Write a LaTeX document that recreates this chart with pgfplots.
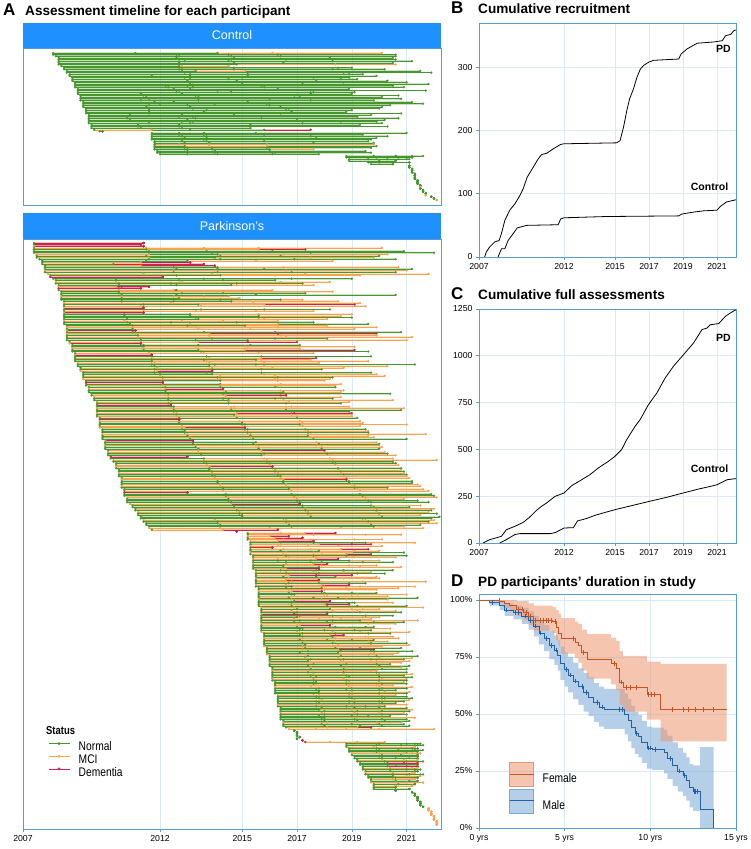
\documentclass[border=0pt]{standalone}
\usepackage{fontspec}
\setmainfont{Liberation Sans}
\newfontfamily\narrowfont{Liberation Sans}[FakeStretch=0.82]
\usepackage{pgfplots}
\pgfplotsset{compat=1.18}
\usepackage{pgfplotstable}
\definecolor{frame}{RGB}{86,156,214}
\definecolor{gridc}{RGB}{218,234,248}
\definecolor{hdr}{RGB}{30,144,255}
\definecolor{cN}{RGB}{70,150,45}
\definecolor{cM}{RGB}{247,163,80}
\definecolor{cD}{RGB}{204,35,75}
\definecolor{femline}{RGB}{196,84,36}
\definecolor{femfill}{RGB}{236,150,110}
\definecolor{maleline}{RGB}{36,96,164}
\definecolor{malefill}{RGB}{120,168,214}
\pgfplotsset{colormap={status}{rgb255(0cm)=(70,150,45) rgb255(1cm)=(247,163,80) rgb255(2cm)=(204,35,75)}}
\pgfplotsset{
 panel/.style={scale only axis, anchor=south west, axis line style={draw=frame, line width=0.8pt},
   tick style={draw=frame, line width=0.6pt}, major tick length=3pt, tick align=outside,
   grid=major, grid style={draw=gridc, line width=0.6pt},
   tick label style={font=\fontsize{8.7}{9}\selectfont}, xtick pos=bottom, ytick pos=left},
 timeline/.style={panel, width=418pt, xmin=70, xmax=222.55, y dir=reverse, ytick=\empty,
   xtick={70,120,150,170,190,210}, colormap name=status, point meta min=0, point meta max=2},
 band/.style={forget plot, line width=1.8pt, draw opacity=0.28},
 thin/.style={forget plot, line width=0.5pt},
 dots/.style={forget plot, scatter, only marks, mark=*, mark size=1.05pt, mark options={line width=0.2pt},
   scatter/use mapped color={draw=mapped color, fill=mapped color}},
}
\pgfplotstableread{
a0 s0 a1 s1 a2 s2 a3 s3 a4 s4
81 0 111 0 141 0 161 1 201 1
81 0 126 0 145 0 163 0 206 0
82 0 127 0 146 0 164 0 206 0
83 0 126 0 147 0 182 0 205 0
83 0 127 0 146 0 166 0 206 0
83 0 129 0 145 0 183 0 212 0
83 0 127 0 147 0 165 0 205 0
83 0 128 0 148 0 184 1 206 1
84 0 127 0 145 1 145 1 145 1
85 0 128 0 147 0 185 0 190 0
85 0 127 0 147 0 183 0 202 0
86 0 128 0 133 0 151 1 215 0
86 0 129 0 152 0 187 0 219 0
87 0 131 0 152 0 189 0 194 0
87 0 117 0 131 0 152 0 199 0
88 0 129 0 150 0 176 0 189 0
88 0 131 0 145 0 186 0 192 0
88 0 130 0 148 0 177 0 203 0
89 0 132 0 150 0 187 0 210 0
89 0 131 0 150 0 172 0 218 0
89 0 122 0 130 0 157 0 205 0
89 0 123 0 132 0 158 0 209 0
90 0 125 0 131 0 163 0 189 0
90 0 127 0 141 0 175 0 217 0
90 0 126 0 146 0 176 0 191 0
90 0 113 0 128 0 175 0 190 0
91 0 114 0 133 0 169 0 207 0
91 0 115 0 134 0 171 0 201 0
91 0 116 0 134 0 160 0 208 0
91 0 113 0 134 0 175 0 198 0
92 0 118 0 125 0 152 0 212 0
92 0 120 0 140 0 159 0 216 0
92 0 116 0 130 0 160 0 204 0
92 0 115 0 131 0 164 0 201 0
93 0 116 0 132 0 167 0 200 0
93 0 116 0 137 0 166 0 190 0
93 0 116 0 136 0 168 0 188 0
93 0 116 0 128 0 164 0 208 0
94 0 109 0 128 0 147 0 197 0
94 0 108 0 127 0 132 0 192 0
94 0 108 0 133 0 157 0 207 0
94 0 109 0 130 0 170 0 202 0
94 0 128 0 132 0 186 0 199 0
94 0 116 0 131 0 172 0 201 0
95 0 112 0 127 0 153 0 193 0
95 0 112 0 127 0 153 0 203 0
95 0 113 0 128 0 153 0 153 0
96 0 117 1 131 0 158 0 175 2
98 0 99 0 99 0 99 0 99 0
117 0 127 0 136 0 155 0 210 0
117 0 127 0 136 0 158 0 194 0
117 0 128 0 137 0 175 0 203 0
117 0 129 0 137 0 177 0 199 0
117 0 128 0 136 0 158 0 197 0
118 0 128 0 137 0 158 0 196 0
118 0 129 0 138 0 176 0 198 0
118 0 127 1 138 1 159 1 198 1
118 0 129 0 138 1 159 1 199 0
118 0 130 0 139 0 159 0 197 0
118 0 129 0 139 0 160 0 176 1
119 0 130 0 140 0 160 0 195 0
119 0 130 0 140 0 162 0 197 0
120 0 130 0 141 0 161 0 178 0
188 0 198 0 206 0 212 0 216 0
188 0 199 0 207 0 212 0 212 0
189 0 196 0 203 0 210 0 211 0
189 0 200 0 206 0 206 0 206 0
196 0 200 0 211 0 211 0 211 0
197 0 205 0 205 0 205 0 205 0
211 0 211 0 211 0 211 0 211 0
211 0 211 0 211 0 211 0 211 0
212 0 212 0 212 0 212 0 212 0
212 0 212 0 212 0 212 0 212 0
212 0 212 0 212 0 212 0 212 0
213 0 213 0 213 0 213 0 213 0
213 0 213 0 213 0 213 0 213 0
213 0 213 0 213 0 213 0 213 0
213 0 213 0 213 0 213 0 213 0
214 0 214 0 214 0 214 0 214 0
214 0 214 0 214 0 214 0 214 0
214 0 214 0 214 0 214 0 214 0
215 0 215 0 215 0 215 0 215 0
215 1 215 1 215 1 215 1 215 1
215 0 215 0 215 0 215 0 215 0
216 0 216 0 216 0 216 0 216 0
216 0 216 0 216 0 216 0 216 0
217 0 217 0 217 0 217 0 217 0
217 1 217 1 217 1 217 1 217 1
219 0 219 0 219 0 219 0 219 0
220 0 220 0 220 0 220 0 220 0
221 1 221 1 221 1 221 1 221 1
}\ctrltab
\pgfplotstableread{
a0 s0 a1 s1 a2 s2 a3 s3 a4 s4
74 0 114 2 114 2 114 2 114 2
74 0 113 2 113 2 113 2 113 2
74 1 114 2 114 2 114 2 114 2
74 0 115 1 136 1 156 1 201 1
74 0 115 0 137 1 156 1 173 2
74 0 116 0 137 0 161 0 209 0
74 0 116 0 139 0 175 0 220 0
75 1 116 1 141 0 165 1 203 1
75 0 115 0 142 0 164 0 200 0
75 0 116 1 140 0 175 1 198 1
76 0 116 0 142 0 169 0 206 0
77 0 115 0 130 0 155 1 183 1
77 0 113 1 131 2 131 2 131 2
77 0 103 0 136 2 136 2 136 2
78 0 113 1 140 2 140 2 140 2
78 0 125 0 141 0 165 1 207 1
78 0 126 0 141 0 158 0 212 0
78 1 125 1 140 1 166 1 210 1
78 0 125 0 141 0 168 0 206 0
79 1 114 1 139 1 173 1 218 1
80 0 126 0 142 0 162 1 193 1
80 2 121 2 121 2 121 2 121 2
81 0 104 0 136 0 168 0 190 0
82 0 104 0 127 0 143 0 162 0
82 1 104 1 128 1 164 1 182 1
82 0 105 0 124 0 148 0 172 0
83 0 105 0 126 0 146 0 176 1
83 1 104 1 106 2 116 2 116 2
83 2 105 2 113 2 113 2 113 2
83 0 105 1 125 1 126 0 161 1
84 0 105 0 125 1 141 1 183 1
84 0 105 0 128 0 143 0 173 0
84 0 106 0 126 0 155 0 206 0
84 1 106 1 125 1 136 1 145 1
84 0 106 0 127 0 149 1 149 1
84 0 106 0 142 0 164 0 172 1
85 0 106 0 125 0 146 0 185 1
85 1 106 1 124 1 154 1 193 1
85 0 114 0 134 0 158 1 191 2
85 0 113 1 135 1 160 1 195 1
85 1 114 2 114 2 114 2 114 2
85 0 114 0 135 0 158 0 182 0
85 0 114 1 133 1 155 1 176 1
85 1 114 2 114 2 114 2 114 2
85 0 107 0 131 0 156 1 190 1
85 0 107 0 131 0 156 0 186 1
85 0 108 0 133 0 156 0 190 0
85 0 108 0 134 0 158 1 181 1
85 1 107 1 128 1 143 1 163 1
85 0 108 0 124 0 148 0 176 0
85 0 109 0 131 1 163 1 196 0
86 0 110 0 130 0 151 0 181 1
86 1 110 1 133 1 163 1 199 1
86 0 110 0 134 1 153 1 191 1
86 1 111 2 111 2 111 2 111 2
86 0 110 0 136 0 162 0 208 0
86 1 111 1 138 1 163 2 199 2
86 0 112 0 138 1 164 1 199 1
86 0 112 1 138 1 166 1 212 1
86 0 113 0 139 0 162 0 181 0
86 0 113 0 133 0 152 0 210 1
87 0 113 1 134 1 152 2 170 2
87 1 113 2 113 2 113 2 113 2
88 0 114 0 134 0 153 0 171 0
88 0 114 0 133 1 151 1 191 1
88 1 114 1 134 1 152 1 171 1
88 0 114 0 134 0 151 1 191 2
88 0 116 0 135 0 156 0 196 0
89 0 116 1 136 1 156 1 176 1
89 1 117 2 117 2 117 2 117 2
89 0 117 0 137 0 157 0 197 0
89 0 117 1 138 1 157 1 177 2
89 0 117 0 136 0 155 0 175 1
89 0 117 0 137 1 157 1 196 1
90 1 118 1 138 1 158 1 178 1
90 0 117 0 140 0 155 0 213 0
90 0 118 0 138 0 158 1 203 1
91 0 119 1 139 1 161 1 187 1
91 0 118 0 139 0 157 0 179 0
91 1 119 1 139 2 139 2 139 2
92 0 118 0 137 0 157 0 197 0
92 0 120 0 139 0 158 1 199 1
92 0 120 1 142 1 162 1 202 1
92 0 121 0 141 0 163 0 183 0
92 1 121 1 142 1 162 1 182 1
93 0 121 0 142 0 163 1 180 1
93 2 121 2 121 2 121 2 121 2
93 0 121 0 142 0 164 1 186 1
93 0 121 1 142 1 163 1 184 1
94 0 122 0 142 0 162 0 184 0
94 1 122 1 143 2 143 2 143 2
94 0 122 0 143 1 164 1 187 1
94 0 122 0 144 0 165 0 186 1
95 0 123 0 143 0 164 0 204 0
95 0 122 1 144 1 166 2 166 2
96 1 123 1 144 1 164 1 186 1
96 0 123 0 143 0 162 0 183 0
96 0 123 0 145 0 165 1 205 1
97 1 124 1 145 1 167 1 189 1
97 0 123 0 145 0 166 0 186 0
97 0 124 2 124 2 124 2 124 2
97 0 125 0 147 1 168 1 189 1
97 1 124 1 146 1 166 1 209 1
97 0 125 0 146 0 166 0 208 0
97 0 125 0 148 0 168 0 189 0
97 1 126 1 148 1 169 2 190 2
97 0 126 0 147 0 168 1 190 1
97 0 126 1 148 1 170 1 190 1
98 0 127 0 148 0 170 0 192 0
98 2 127 2 127 2 127 2 127 2
98 1 127 1 149 1 171 1 193 1
98 0 127 0 150 0 172 1 194 1
98 0 128 0 151 0 171 0 210 1
98 0 128 1 150 1 172 1 193 1
98 1 129 1 151 2 151 2 151 2
99 0 128 0 152 0 173 0 195 0
99 0 129 0 151 1 174 1 196 1
99 0 129 0 152 0 174 0 196 0
99 1 130 1 153 1 175 1 217 1
99 0 130 0 153 0 174 0 196 1
99 0 131 1 153 1 176 1 198 1
99 0 131 0 154 0 176 0 210 0
100 1 132 2 132 2 132 2 132 2
100 0 132 0 155 0 177 1 199 1
100 0 132 0 154 0 178 0 200 0
100 1 133 1 155 1 177 1 200 1
100 0 133 0 156 1 179 1 201 1
100 0 134 0 156 0 179 0 200 0
101 0 134 1 157 1 180 2 180 2
101 1 134 1 157 1 180 1 202 1
101 0 135 0 158 0 181 0 203 0
101 0 135 0 157 0 182 1 206 1
102 2 130 2 130 2 130 2 130 2
102 0 136 0 158 1 182 1 205 1
103 1 136 1 159 1 183 1 221 1
103 0 136 0 159 0 183 0 205 0
104 0 137 0 160 0 184 0 206 0
104 0 137 1 160 1 184 1 207 1
104 1 138 1 161 2 161 2 161 2
104 0 138 0 161 0 185 0 208 0
105 0 138 0 162 1 185 1 208 1
105 0 139 0 162 0 186 0 209 0
105 1 139 1 163 1 186 1 209 1
105 0 139 0 163 0 187 0 210 0
105 0 140 0 164 0 187 1 210 1
106 0 140 1 164 1 188 1 211 1
106 1 141 1 165 1 188 2 188 2
106 0 141 0 165 0 189 0 212 0
106 0 141 0 165 0 189 0 212 0
106 0 142 1 166 1 190 1 214 1
106 1 142 1 166 1 191 1 215 1
106 0 143 0 167 0 191 0 203 0
107 0 143 0 167 0 192 1 216 1
107 0 143 1 168 1 193 1 218 1
107 2 130 2 130 2 130 2 130 2
107 0 144 0 168 0 193 0 219 0
107 0 144 0 169 0 194 0 220 0
108 1 145 1 169 1 195 1 221 1
108 0 145 0 170 1 195 1 209 1
108 0 145 0 170 0 196 0 214 0
108 0 146 0 171 0 197 0 218 0
109 1 146 1 171 2 171 2 171 2
110 0 147 0 172 0 197 0 215 1
110 0 147 0 172 0 198 0 211 0
111 0 148 1 173 1 198 1 220 1
111 0 148 0 173 0 199 0 219 0
112 1 149 1 174 1 199 1 218 1
112 0 149 0 174 0 200 0 221 0
112 0 150 0 175 1 200 1 215 1
113 0 150 0 175 0 201 0 222 0
113 0 140 0 165 0 194 0 219 0
114 1 140 1 166 1 195 1 220 1
114 0 141 0 166 0 196 0 218 0
115 0 141 0 167 1 196 1 221 1
115 0 142 0 167 0 197 0 215 0
116 0 142 0 168 0 198 0 209 1
116 1 142 1 160 1 186 1 216 1
117 0 143 1 163 2 163 2 163 2
148 2 148 2 148 2 148 2 148 2
152 0 164 1 173 1 184 2 184 2
152 0 163 1 176 1 195 1 208 1
152 1 160 1 167 2 167 2 167 2
152 0 162 1 172 2 172 2 172 2
152 0 165 1 175 1 191 1 201 1
153 1 163 1 176 2 176 2 176 2
153 0 164 0 176 0 195 0 213 1
153 0 164 1 178 1 190 2 197 2
153 1 163 1 174 1 185 1 201 1
153 0 161 2 161 2 161 2 161 2
153 0 165 1 175 1 186 1 196 2
153 0 164 0 178 0 191 1 200 1
153 1 166 1 176 1 190 1 209 0
153 0 165 1 179 1 188 1 197 2
154 0 166 0 176 0 188 0 210 0
154 0 167 1 177 1 191 1 206 1
154 1 163 1 177 1 185 2 185 2
154 0 163 0 175 0 189 0 200 1
154 0 166 0 179 0 194 0 205 0
154 1 166 1 176 1 181 2 181 2
154 0 165 0 179 1 189 1 199 1
154 0 165 0 178 0 193 1 208 1
154 0 166 1 178 2 178 2 178 2
155 0 164 0 177 0 187 0 205 0
155 1 166 1 176 1 187 1 197 1
155 0 166 0 178 0 192 0 202 0
155 0 167 1 177 2 190 2 190 2
155 0 165 0 177 0 184 0 199 1
155 1 167 1 178 1 187 1 200 1
155 0 166 1 178 2 178 2 178 2
155 0 168 1 179 1 194 1 217 1
155 0 167 0 178 0 189 0 195 0
155 1 166 1 179 1 189 2 189 2
155 0 168 0 180 1 193 1 213 1
156 0 166 0 179 0 188 1 207 1
156 0 167 1 180 1 189 1 199 1
156 1 168 1 179 2 179 2 179 2
156 0 167 0 180 0 190 0 199 0
156 0 169 0 180 1 192 1 210 1
156 0 168 1 181 1 190 1 203 1
156 0 167 0 176 0 185 0 214 0
156 1 168 1 179 1 188 1 203 1
156 0 169 0 182 2 182 2 182 2
156 0 168 0 181 0 191 0 205 1
156 0 167 1 180 1 189 2 189 2
156 0 168 0 181 0 192 0 210 0
157 1 169 1 182 1 194 1 216 1
157 0 170 0 182 0 190 1 200 1
157 0 168 1 183 1 192 1 206 1
157 0 170 0 181 0 193 0 208 0
157 1 169 2 181 2 181 2 181 2
157 0 171 0 183 0 195 0 205 0
157 0 170 0 182 1 194 1 200 1
157 0 169 1 178 1 186 1 197 1
157 0 171 0 183 0 193 0 214 1
157 0 169 0 181 0 198 0 209 0
157 1 170 1 183 1 196 1 206 1
157 0 171 1 182 2 182 2 182 2
157 0 170 0 184 0 195 0 198 0
157 0 172 0 181 1 188 1 204 1
157 0 171 0 180 0 191 0 197 0
157 1 170 1 183 1 193 1 211 1
158 0 172 0 184 0 196 0 204 0
158 0 171 0 182 1 187 2 187 2
158 0 172 0 183 0 195 1 205 1
158 1 172 1 184 1 196 1 207 1
158 0 171 0 181 0 190 0 198 0
158 0 173 1 184 1 196 1 203 1
158 0 172 0 183 0 197 0 210 0
158 0 173 0 185 1 197 1 211 1
158 1 172 1 184 1 195 1 201 1
159 0 173 0 184 0 193 0 208 0
159 0 172 1 185 1 198 2 198 2
159 0 174 0 186 0 197 0 212 0
159 0 171 0 185 0 198 1 207 1
159 1 173 1 186 1 196 1 205 1
160 0 174 0 186 0 199 0 214 0
160 0 173 1 185 1 200 1 212 1
160 0 175 0 187 0 197 0 209 0
160 0 174 0 186 1 199 1 211 1
160 1 175 1 187 1 199 1 208 1
160 0 176 0 188 0 199 0 204 0
160 0 174 0 186 0 200 0 211 0
161 0 175 1 188 1 199 1 208 1
161 0 175 0 187 0 201 0 210 0
161 1 176 1 188 1 197 1 199 1
161 0 174 0 187 0 199 0 210 0
161 0 176 1 187 1 200 1 212 1
161 0 175 0 188 0 200 0 209 0
161 0 177 0 189 0 200 0 212 0
161 1 176 1 187 1 201 1 210 1
161 0 176 0 188 0 200 0 210 0
162 0 177 0 189 1 200 1 209 1
162 0 176 0 188 0 201 0 210 0
162 0 177 1 189 1 199 1 205 1
162 1 175 1 189 1 200 1 212 1
162 0 178 0 190 0 201 0 210 0
162 0 177 0 188 0 200 0 206 0
162 0 178 0 190 1 202 1 211 1
162 0 176 0 189 0 200 0 210 0
163 1 178 1 190 1 200 1 206 1
163 0 177 0 189 0 201 0 210 0
163 0 178 0 190 0 202 0 212 0
163 0 179 1 191 1 201 1 211 1
163 0 177 0 189 0 200 0 209 0
163 0 178 0 191 0 201 0 206 0
163 1 179 1 190 1 200 1 210 1
163 0 177 0 188 0 195 0 202 0
164 0 179 0 191 0 200 0 210 0
164 0 178 0 190 1 201 1 212 1
164 0 180 0 192 0 201 0 211 0
164 1 179 1 191 1 200 1 209 1
164 0 180 0 192 0 201 0 210 0
164 0 178 0 190 0 196 0 204 0
164 0 180 0 192 1 201 1 213 1
164 0 179 0 191 0 201 0 210 0
165 0 180 0 192 0 202 0 211 0
165 1 181 1 192 1 199 1 208 1
165 0 179 0 190 0 200 0 209 0
165 0 180 0 193 0 201 0 211 0
166 0 181 1 192 1 197 2 197 2
167 1 177 1 188 1 200 1 220 1
169 0 169 0 169 0 169 0 169 0
170 0 170 0 170 0 170 0 170 0
170 0 170 0 170 0 170 0 170 0
170 0 170 0 170 0 170 0 170 0
171 0 171 0 171 0 171 0 171 0
170 0 170 0 170 0 170 0 170 0
172 2 172 2 172 2 172 2 172 2
173 2 182 1 192 1 202 1 202 1
188 0 200 0 210 0 213 0 215 0
188 0 199 0 208 0 214 0 216 0
188 0 198 1 213 1 213 1 213 1
189 0 199 0 212 0 214 0 214 0
189 0 200 0 207 0 213 0 216 0
189 0 199 0 210 0 214 0 214 0
190 1 200 1 209 1 212 1 215 1
190 0 201 0 208 0 214 0 214 0
191 0 200 0 211 0 214 0 214 0
191 0 201 0 206 0 214 0 214 0
192 0 201 1 209 1 214 1 214 1
192 0 202 0 210 0 214 0 216 0
193 0 203 0 209 2 214 2 214 2
193 0 203 0 206 0 214 0 214 0
194 0 203 0 210 2 214 2 214 2
194 0 204 1 212 1 214 1 214 1
194 0 204 0 210 0 213 0 215 0
195 0 204 0 213 0 214 0 214 0
195 1 205 1 212 1 213 1 213 1
195 0 205 0 211 0 215 0 216 0
196 0 205 0 210 1 215 1 215 1
196 0 206 0 214 0 214 0 214 0
197 0 205 1 212 1 213 1 213 1
197 0 206 0 211 0 214 0 214 0
197 1 206 1 210 1 216 1 216 1
198 0 207 0 213 0 213 0 213 0
198 0 206 1 212 1 212 1 212 1
198 0 206 0 206 0 206 0 206 0
198 0 211 0 211 0 211 0 211 0
206 0 206 0 206 0 206 0 206 0
212 0 212 0 212 0 212 0 212 0
213 0 213 0 213 0 213 0 213 0
213 0 213 0 213 0 213 0 213 0
214 0 214 0 214 0 214 0 214 0
214 0 214 0 214 0 214 0 214 0
214 0 214 0 214 0 214 0 214 0
215 0 215 0 215 0 215 0 215 0
215 0 215 0 215 0 215 0 215 0
215 0 215 0 215 0 215 0 215 0
216 0 216 0 216 0 216 0 216 0
218 1 218 1 218 1 218 1 218 1
218 1 218 1 218 1 218 1 218 1
219 1 219 1 219 1 219 1 219 1
219 1 219 1 219 1 219 1 219 1
219 1 219 1 219 1 219 1 219 1
220 1 220 1 220 1 220 1 220 1
220 1 220 1 220 1 220 1 220 1
220 1 220 1 220 1 220 1 220 1
221 1 221 1 221 1 221 1 221 1
221 1 221 1 221 1 221 1 221 1
221 1 221 1 221 1 221 1 221 1
}\pdtab
\newcommand{\timelineplots}[1]{%
 \addplot[band, quiver={u=\thisrow{a0}-\thisrow{a1}, v=0, colored=mapped color}, point meta=\thisrow{s1}] table[x=a1, y expr=\coordindex] {#1};
 \addplot[band, quiver={u=\thisrow{a1}-\thisrow{a2}, v=0, colored=mapped color}, point meta=\thisrow{s2}] table[x=a2, y expr=\coordindex] {#1};
 \addplot[band, quiver={u=\thisrow{a2}-\thisrow{a3}, v=0, colored=mapped color}, point meta=\thisrow{s3}] table[x=a3, y expr=\coordindex] {#1};
 \addplot[band, quiver={u=\thisrow{a3}-\thisrow{a4}, v=0, colored=mapped color}, point meta=\thisrow{s4}] table[x=a4, y expr=\coordindex] {#1};
 \addplot[thin, quiver={u=\thisrow{a0}-\thisrow{a1}, v=0, colored=mapped color}, point meta=\thisrow{s1}] table[x=a1, y expr=\coordindex] {#1};
 \addplot[thin, quiver={u=\thisrow{a1}-\thisrow{a2}, v=0, colored=mapped color}, point meta=\thisrow{s2}] table[x=a2, y expr=\coordindex] {#1};
 \addplot[thin, quiver={u=\thisrow{a2}-\thisrow{a3}, v=0, colored=mapped color}, point meta=\thisrow{s3}] table[x=a3, y expr=\coordindex] {#1};
 \addplot[thin, quiver={u=\thisrow{a3}-\thisrow{a4}, v=0, colored=mapped color}, point meta=\thisrow{s4}] table[x=a4, y expr=\coordindex] {#1};
 \addplot[dots, point meta=\thisrow{s0}] table[x=a0, y expr=\coordindex] {#1};
 \addplot[dots, point meta=\thisrow{s1}] table[x=a1, y expr=\coordindex] {#1};
 \addplot[dots, point meta=\thisrow{s2}] table[x=a2, y expr=\coordindex] {#1};
 \addplot[dots, point meta=\thisrow{s3}] table[x=a3, y expr=\coordindex] {#1};
 \addplot[dots, point meta=\thisrow{s4}] table[x=a4, y expr=\coordindex] {#1};
}
\begin{document}
\begin{tikzpicture}[x=1pt,y=1pt]
\useasboundingbox (0,0) rectangle (750,849);
% ---------- Panel A: Control
\begin{axis}[timeline, at={(23pt,644pt)}, height=157pt, ymin=-3.06, ymax=93.06,
  xticklabels={}, xtick style={draw=none}]
\timelineplots{\ctrltab}
\end{axis}
% ---------- Panel A: Parkinson's
\begin{axis}[timeline, at={(23pt,20pt)}, height=590pt, ymin=-2.47, ymax=361.7,
  xticklabels={2007,2012,2015,2017,2019,2021},
  legend style={at={(0.0598,0.148)}, anchor=north west, draw=none, fill=none, inner sep=0pt,
    row sep=2.2pt, nodes={inner sep=0pt}, font=\narrowfont\fontsize{12.5}{12.5}\selectfont},
  legend cell align=left]
\timelineplots{\pdtab}
\addlegendimage{legend image code/.code={\draw[cN,line width=0.7pt] (0pt,3.5pt)--(21pt,3.5pt); \fill[cN] (10.5pt,3.5pt) circle (1.2pt); \path (30pt,3.5pt);}}
\addlegendentry{Normal}
\addlegendimage{legend image code/.code={\draw[cM,line width=0.7pt] (0pt,3.5pt)--(21pt,3.5pt); \fill[cM] (10.5pt,3.5pt) circle (1.2pt); \path (30pt,3.5pt);}}
\addlegendentry{MCI}
\addlegendimage{legend image code/.code={\draw[cD,line width=0.7pt] (0pt,3.5pt)--(21pt,3.5pt); \fill[cD] (10.5pt,3.5pt) circle (1.2pt); \path (30pt,3.5pt);}}
\addlegendentry{Dementia}
\node[anchor=base west, inner sep=0pt, font=\narrowfont\bfseries\fontsize{11.5}{12}\selectfont] at (axis description cs:0.055,0.161) {Status};
\end{axis}
% headers
\fill[hdr] (23,801) rectangle (441,826);
\node[white, font=\fontsize{12.5}{13}\selectfont] at (232,813.5) {Control};
\fill[hdr] (23,610) rectangle (441,636);
\node[white, font=\fontsize{12.5}{13}\selectfont] at (232,623) {Parkinson’s};
% ---------- Panel B
\begin{axis}[panel, at={(479pt,592pt)}, width=257pt, height=234pt, xmin=2007, xmax=2022.12, ymin=0, ymax=370,
  xtick={2007,2012,2015,2017,2019,2021}, xticklabels={2007,2012,2015,2017,2019,2021},
  ytick={0,100,200,300}, yticklabels={0,100,200,300}]
\addplot[black, line width=0.8pt] coordinates {(2007.33,0) (2007.43,8) (2007.63,16) (2007.93,24) (2008.18,26) (2008.32,37) (2008.52,58) (2008.81,74) (2009.11,84) (2009.40,97) (2009.60,108) (2009.83,126) (2010.19,142) (2010.48,155) (2010.68,162) (2010.98,164) (2011.37,171) (2011.80,178) (2012.0,179) (2015.10,180.5) (2015.30,184) (2015.50,205) (2015.70,232) (2015.86,250) (2016.09,266) (2016.29,284) (2016.49,297) (2016.69,303) (2016.98,308) (2017.28,311) (2018.75,313) (2018.89,321) (2019.24,329) (2019.83,338) (2020.82,340) (2021.31,342) (2021.51,350) (2021.81,352) (2022.00,358) (2022.12,359)};
\addplot[black, line width=0.8pt] coordinates {(2008.12,0) (2008.32,13) (2008.52,13) (2008.71,26) (2009.01,37) (2009.25,46) (2009.80,50) (2011.66,51) (2011.80,60) (2012.0,62) (2014.5,64) (2018.75,65) (2018.94,68) (2019.63,71) (2020.22,73) (2021.0,74) (2021.2,80) (2021.56,87) (2022.12,90.5)};
\end{axis}
% ---------- Panel C
\begin{axis}[panel, at={(479pt,306pt)}, width=257pt, height=234pt, xmin=2007, xmax=2022.12, ymin=0, ymax=1250,
  xtick={2007,2012,2015,2017,2019,2021}, xticklabels={2007,2012,2015,2017,2019,2021},
  ytick={0,250,500,750,1000,1250}, yticklabels={0,250,500,750,1000,1250}]
\addplot[black, line width=0.8pt] coordinates {(2007.24,0) (2007.63,18) (2008.12,30) (2008.32,36) (2008.61,71) (2009.11,89) (2009.60,110) (2009.99,139) (2010.38,174) (2010.68,196) (2010.98,214) (2011.47,249) (2012.0,267) (2012.45,306) (2013.04,338) (2013.53,365) (2014.02,401) (2014.61,436) (2015.00,463) (2015.39,499) (2015.69,552) (2016.18,623) (2016.48,659) (2016.97,739) (2017.46,801) (2017.95,881) (2018.44,944) (2019.03,1006) (2019.62,1068) (2020.12,1140) (2020.41,1148) (2020.61,1166) (2021.10,1172) (2021.50,1211) (2021.79,1229) (2022.12,1246)};
\addplot[black, line width=0.8pt] coordinates {(2008.22,0) (2008.61,18) (2009.11,45) (2009.40,50) (2011.2,50) (2011.5,56) (2012.0,80) (2012.55,82) (2012.8,118) (2013.3,130) (2013.9,150) (2015.0,178) (2016.0,200) (2017.0,222) (2018.0,243) (2019.0,267) (2020.0,290) (2020.5,300) (2021.0,311) (2021.6,338) (2022.12,344)};
\end{axis}
% ---------- Panel D
\begin{axis}[panel, at={(479pt,21pt)}, width=257pt, height=234pt, xmin=0, xmax=15, ymin=0, ymax=1.026,
  xtick={0,5,10,15}, xticklabels={0 yrs,5 yrs,10 yrs,15 yrs},
  ytick={0,0.25,0.5,0.75,1}, yticklabels={0\%,25\%,50\%,75\%,100\%},
  legend style={at={(0.1167,0.282)}, anchor=north west, draw=none, fill=none, inner sep=0pt,
    row sep=2pt, nodes={inner sep=0pt}, font=\narrowfont\fontsize{12.5}{13}\selectfont},
  legend cell align=left]
\addplot[const plot, fill=malefill, fill opacity=0.55, draw=none, forget plot] coordinates {(0,1) (1.0,0.998) (1.5,0.985) (2.0,0.975) (2.5,0.965) (2.9,0.95) (3.2,0.93) (3.5,0.91) (3.8,0.89) (4.1,0.865) (4.4,0.845) (4.6,0.825) (4.75,0.795) (5.0,0.77) (5.2,0.75) (5.5,0.725) (5.8,0.70) (6.1,0.68) (6.4,0.66) (6.7,0.635) (7.0,0.62) (7.3,0.61) (8.5,0.59) (8.7,0.565) (8.9,0.535) (9.1,0.51) (9.3,0.495) (9.5,0.47) (9.8,0.445) (10.1,0.44) (10.8,0.43) (11.0,0.405) (11.3,0.375) (11.6,0.35) (11.9,0.33) (12.1,0.31) (12.3,0.28) (12.5,0.275) (12.9,0.355) (13.7,0.355)
 (13.7,0.0) (12.9,0.075) (12.5,0.09) (12.3,0.12) (12.1,0.14) (11.9,0.16) (11.6,0.185) (11.3,0.215) (11.0,0.24) (10.8,0.255) (10.1,0.26) (9.8,0.285) (9.5,0.31) (9.3,0.325) (9.1,0.35) (8.9,0.38) (8.7,0.41) (8.5,0.435) (7.3,0.445) (7.0,0.465) (6.7,0.49) (6.4,0.51) (6.1,0.54) (5.8,0.565) (5.5,0.595) (5.2,0.62) (5.0,0.65) (4.75,0.69) (4.6,0.715) (4.4,0.74) (4.1,0.775) (3.8,0.805) (3.5,0.84) (3.2,0.87) (2.9,0.895) (2.5,0.915) (2.0,0.93) (1.5,0.955) (1.2,0.975) (0.6,1.0) (0,1)};
\addplot[const plot, fill=femfill, fill opacity=0.55, draw=none, forget plot] coordinates {(0,1) (1.2,1.0) (2.2,0.995) (2.9,0.985) (3.2,0.975) (4.3,0.97) (4.5,0.955) (4.65,0.94) (4.8,0.92) (5.6,0.905) (5.8,0.895) (6.0,0.87) (6.3,0.85) (7.7,0.835) (8.0,0.82) (8.2,0.775) (8.4,0.755) (9.8,0.73) (10.6,0.72) (14.45,0.72)
 (14.45,0.38) (10.6,0.475) (9.8,0.51) (8.4,0.54) (8.2,0.605) (8.0,0.63) (7.7,0.655) (6.3,0.69) (6.0,0.725) (5.8,0.745) (5.6,0.765) (4.8,0.795) (4.65,0.825) (4.5,0.855) (4.3,0.865) (3.2,0.89) (2.9,0.91) (2.6,0.93) (2.2,0.95) (1.8,0.965) (1.5,0.985) (1.2,1.0) (0,1)};
\addplot[const plot, maleline, line width=0.7pt, forget plot] coordinates {(0,1) (0.6,0.99) (1.2,0.975) (1.5,0.955) (2.0,0.945) (2.5,0.93) (2.9,0.91) (3.2,0.885) (3.5,0.855) (3.8,0.83) (4.1,0.80) (4.4,0.78) (4.6,0.755) (4.75,0.72) (5.0,0.695) (5.2,0.67) (5.5,0.645) (5.8,0.62) (6.1,0.595) (6.4,0.575) (6.7,0.55) (7.0,0.53) (7.3,0.52) (8.5,0.50) (8.7,0.47) (8.9,0.44) (9.1,0.415) (9.3,0.40) (9.5,0.375) (9.8,0.35) (10.1,0.345) (10.8,0.33) (11.0,0.305) (11.3,0.275) (11.6,0.25) (11.9,0.23) (12.1,0.21) (12.3,0.18) (12.5,0.16) (12.9,0.08) (13.7,0.0)};
\addplot[const plot, femline, line width=0.7pt, forget plot] coordinates {(0,1) (1.2,0.995) (1.5,0.985) (1.8,0.975) (2.2,0.96) (2.6,0.945) (2.9,0.93) (3.2,0.91) (4.3,0.905) (4.5,0.88) (4.65,0.855) (4.8,0.83) (5.6,0.815) (5.8,0.80) (6.0,0.77) (6.3,0.74) (7.7,0.72) (8.0,0.70) (8.2,0.64) (8.4,0.615) (9.8,0.585) (10.6,0.52) (14.45,0.52)};
\addplot[only marks, mark=|, mark size=2.3pt, maleline, mark options={line width=0.5pt}, forget plot] coordinates {(0.8,0.99) (1.6,0.955) (2.1,0.945) (2.3,0.945) (2.7,0.93) (3.0,0.91) (3.3,0.885) (3.6,0.855) (3.9,0.83) (4.2,0.80) (4.5,0.78) (5.1,0.695) (5.35,0.67) (5.6,0.645) (6.0,0.62) (6.25,0.595) (6.9,0.55) (7.2,0.53) (8.2,0.52) (8.35,0.52) (9.2,0.415) (9.9,0.35) (10.0,0.35) (10.3,0.345) (11.15,0.305) (11.7,0.25) (12.0,0.23) (12.55,0.16) (12.65,0.16) (12.75,0.16)};
\addplot[only marks, mark=|, mark size=2.3pt, femline, mark options={line width=0.5pt}, forget plot] coordinates {(1.2,1.0) (2.3,0.96) (2.5,0.96) (2.75,0.945) (3.0,0.93) (3.3,0.91) (3.6,0.91) (3.75,0.91) (3.9,0.91) (4.05,0.91) (4.2,0.91) (4.45,0.905) (5.5,0.83) (6.1,0.77) (7.9,0.72) (8.3,0.64) (8.6,0.615) (8.8,0.615) (9.2,0.615) (9.9,0.585) (10.05,0.585) (10.25,0.585) (11.3,0.52) (11.9,0.52) (12.2,0.52) (12.6,0.52) (13.1,0.52) (13.7,0.52)};
\addlegendimage{legend image code/.code={\fill[femfill, fill opacity=0.55] (0pt,-7.5pt) rectangle (24pt,16.5pt); \draw[femline, line width=0.7pt] (0pt,4.5pt)--(24pt,4.5pt); \path (33pt,4.5pt);}}
\addlegendentry{Female}
\addlegendimage{legend image code/.code={\fill[malefill, fill opacity=0.55] (0pt,-7.5pt) rectangle (24pt,16.5pt); \draw[maleline, line width=0.7pt] (0pt,4.5pt)--(24pt,4.5pt); \path (33pt,4.5pt);}}
\addlegendentry{Male}
\end{axis}
% ---------- titles
\node[anchor=base west, inner sep=0pt, font=\bfseries\fontsize{17}{17}\selectfont] at (3,833) {A};
\node[anchor=base west, inner sep=0pt, font=\bfseries\fontsize{13.6}{14}\selectfont] at (25,833) {Assessment timeline for each participant};
\node[anchor=base west, inner sep=0pt, font=\bfseries\fontsize{17}{17}\selectfont] at (451,835) {B};
\node[anchor=base west, inner sep=0pt, font=\bfseries\fontsize{13.6}{14}\selectfont] at (478,835) {Cumulative recruitment};
\node[anchor=base west, inner sep=0pt, font=\bfseries\fontsize{17}{17}\selectfont] at (451,549) {C};
\node[anchor=base west, inner sep=0pt, font=\bfseries\fontsize{13.6}{14}\selectfont] at (478,549) {Cumulative full assessments};
\node[anchor=base west, inner sep=0pt, font=\bfseries\fontsize{17}{17}\selectfont] at (451,262) {D};
\node[anchor=base west, inner sep=0pt, font=\bfseries\fontsize{13.6}{14}\selectfont] at (478,262) {PD participants’ duration in study};
% annotations
\node[font=\bfseries\fontsize{10.5}{11}\selectfont] at (723.5,800) {PD};
\node[font=\bfseries\fontsize{10.5}{11}\selectfont] at (709.5,662) {Control};
\node[font=\bfseries\fontsize{10.5}{11}\selectfont] at (723.5,511.5) {PD};
\node[font=\bfseries\fontsize{10.5}{11}\selectfont] at (709.5,380) {Control};
\end{tikzpicture}
\end{document}
